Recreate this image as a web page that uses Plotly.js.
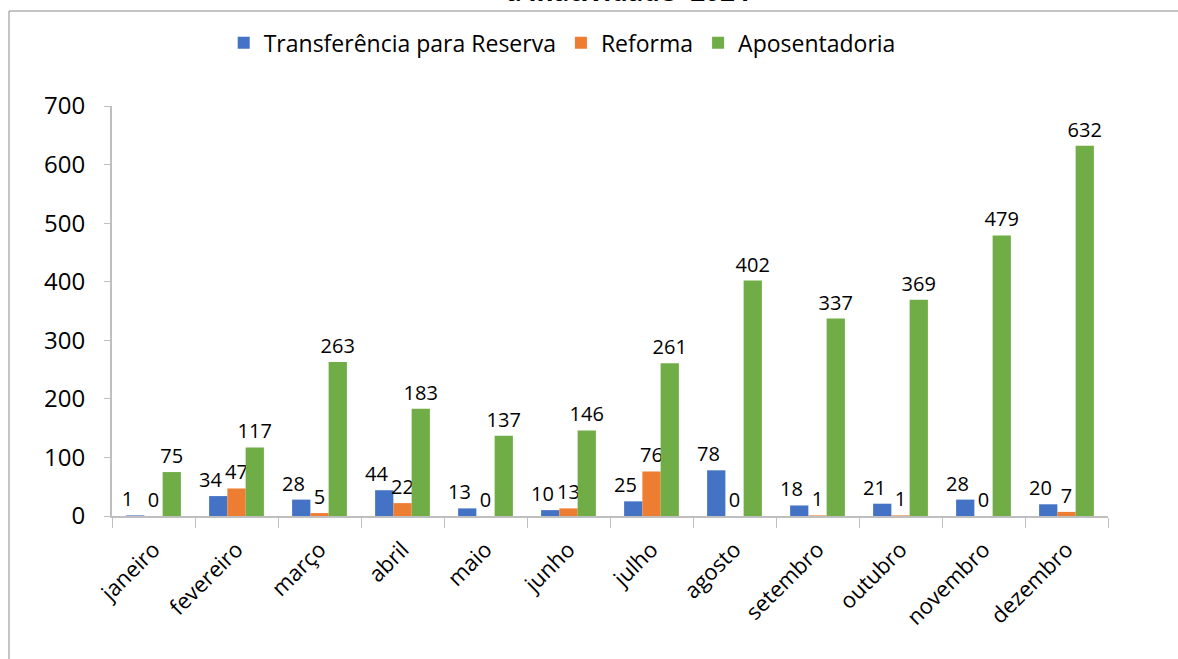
<!DOCTYPE html>
<html>
<head>
<meta charset="utf-8">
<script src="https://cdn.plot.ly/plotly-3.0.1.min.js"></script>
<style>
  html, body { margin: 0; padding: 0; background: #fff; }
  #chart { width: 1178px; height: 659px; }
</style>
</head>
<body>
<div id="chart"></div>
<script>
// months on the x axis
const meses = ['janeiro', 'fevereiro', 'março', 'abril', 'maio', 'junho',
               'julho', 'agosto', 'setembro', 'outubro', 'novembro', 'dezembro'];

// values per series
const transferencia = [1, 34, 28, 44, 13, 10, 25, 78, 18, 21, 28, 20];
const reforma = [0, 47, 5, 22, 0, 13, 76, 0, 1, 1, 0, 7];
const aposentadoria = [75, 117, 263, 183, 137, 146, 261, 402, 337, 369, 479, 632];

const yTicks = [0, 100, 200, 300, 400, 500, 600, 700];

const fam = '"Open Sans", Lato, sans-serif';
const labelFont = { family: fam, size: 20, color: '#000' };
const nb = '\u00a0';

// pad is used to nudge a label off the bar centre like Excel does
function serie(name, values, color, pad) {
    return {
        type: 'bar',
        name: name,
        x: meses,
        y: values,
        texttemplate: '%{y}' + pad,
        textposition: 'outside',
        textfont: labelFont,
        constraintext: 'none',
        cliponaxis: false,
        marker: { color: color, line: { color: color, width: 0 } },
        hoverinfo: 'x+y+name'
    };
}

const traces = [
    serie('Transferência para Reserva', transferencia, '#4472C4', nb.repeat(3)),
    serie('Reforma', reforma, '#ED7D31', ''),
    serie('Aposentadoria', aposentadoria, '#70AD47', '')
];

const layout = {
    width: 1178,
    height: 659,
    margin: { l: 112, r: 70, t: 106, b: 143 },
    paper_bgcolor: '#fff',
    plot_bgcolor: '#fff',
    font: { family: fam, color: '#000' },
    barmode: 'group',
    bargap: 0.34,
    bargroupgap: 0,
    showlegend: true,
    legend: {
        orientation: 'h',
        x: 0.452, xanchor: 'center',
        y: 1.154, yanchor: 'middle',
        font: { size: 23, color: '#000' },
        traceorder: 'normal',
        itemwidth: 30
    },
    xaxis: {
        type: 'category',
        showline: true,
        linecolor: '#bfbfbf',
        linewidth: 2,
        ticks: 'outside',
        tickson: 'boundaries',
        ticklen: 10,
        tickcolor: '#bfbfbf',
        tickangle: -45,
        ticklabelstandoff: 10,
        tickfont: { size: 22, color: '#000' },
        showgrid: false,
        zeroline: false
    },
    yaxis: {
        range: [0, 700],
        tickvals: yTicks,
        ticktext: yTicks.map(String),
        showline: true,
        linecolor: '#bfbfbf',
        linewidth: 2,
        ticks: 'outside',
        ticklen: 6,
        tickcolor: '#bfbfbf',
        ticklabelstandoff: 14,
        tickfont: { size: 24, color: '#000' },
        showgrid: false,
        zeroline: false
    },
    annotations: [{
        text: '<b>a inatividade -2024</b>',
        xref: 'paper', yref: 'paper',
        x: 0.518, xanchor: 'center',
        y: 1.232, yanchor: 'bottom',
        showarrow: false,
        font: { size: 26, color: '#000', family: fam }
    }],
    shapes: [{
        type: 'rect',
        xref: 'paper', yref: 'paper',
        x0: -0.1034, x1: 1.2,
        y0: -0.4, y1: 1.2317,
        line: { color: '#898989', width: 1 },
        fillcolor: 'rgba(0,0,0,0)',
        layer: 'below'
    }]
};

Plotly.newPlot('chart', traces, layout, { displayModeBar: false, staticPlot: true });
</script>
</body>
</html>
